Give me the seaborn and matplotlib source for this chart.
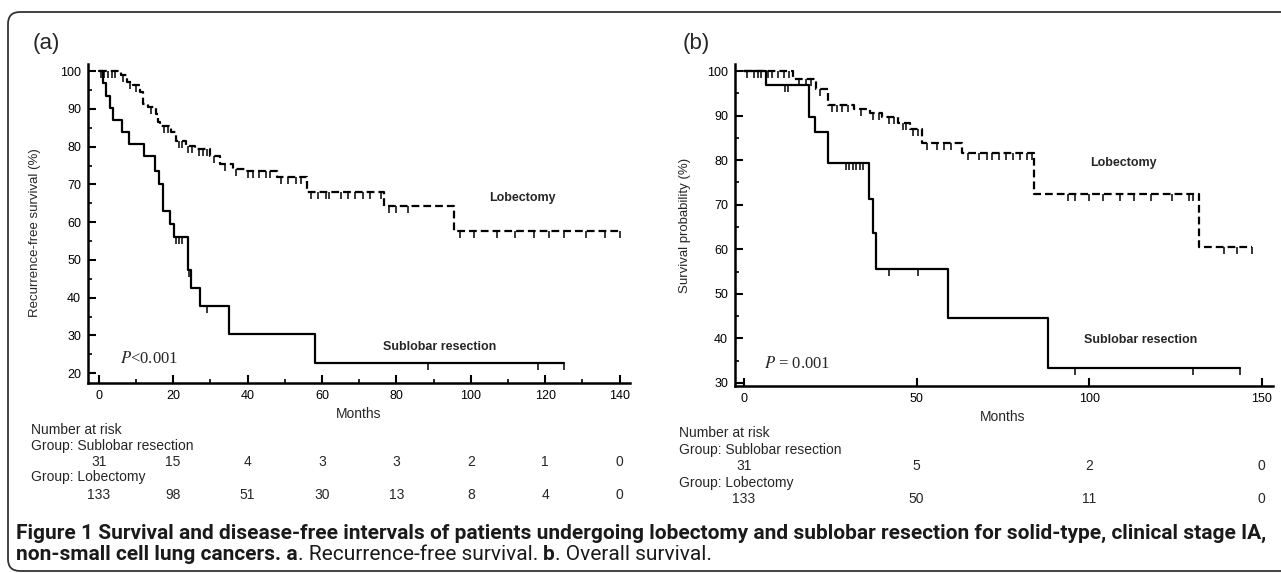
import numpy as np
import matplotlib
matplotlib.use("Agg")
import matplotlib.pyplot as plt
import matplotlib.transforms as mtransforms
from matplotlib.patches import FancyBboxPatch
from matplotlib.ticker import MultipleLocator, FixedLocator
from matplotlib import font_manager as fm
import seaborn as sns

# ---------------- data ----------------
# Panel (a): recurrence-free survival
a_sub_t = [0, 1.1, 1.9, 3.0, 3.9, 6.2, 8.1, 12.1, 15.1, 16.2, 17.3, 19.2, 20.3, 24.1, 24.9, 27.1, 35.1, 58.2, 125.0]
a_sub_s = [100, 96.8, 93.5, 90.3, 87.1, 83.9, 80.6, 77.4, 73.5, 70.0, 63.0, 59.5, 56.1, 47.3, 42.5, 37.8, 30.3, 22.7, 22.7]
a_sub_cens = [20.8, 21.5, 22.3, 24.3, 29.0, 88.4, 118.0, 125.0]

a_lob_t = [0, 5.9, 7.5, 9.3, 11.0, 12.0, 13.3, 15.5, 16.0, 16.4, 19.5, 20.9, 23.5, 26.0, 30.0, 32.5, 36.0, 39.5, 48.0, 56.0, 76.8, 95.5, 140.0]
a_lob_s = [100, 98.9, 97.2, 96.3, 94.5, 91.4, 90.5, 88.7, 86.5, 85.4, 83.8, 81.6, 80.3, 79.4, 77.4, 75.5, 74.1, 73.5, 72.0, 67.9, 64.3, 57.6, 57.6]
a_lob_cens = [0.5, 1.5, 2.5, 3.5, 4.5, 6.5, 8.5, 10, 14, 17.5, 18.5, 21.5, 22.5, 24, 25, 27, 28, 29, 31, 34,
              37, 40, 41.5, 43, 45, 46, 49, 51, 53, 54.5, 57, 59, 61, 62, 65, 67, 69, 71, 73, 76, 78, 80, 83,
              97, 101, 107, 112, 117, 121, 125, 131, 136, 140]

# Panel (b): overall survival
b_sub_t = [0, 6.5, 18.9, 20.5, 24.3, 36.1, 37.3, 38.2, 59.2, 88.2, 143.8]
b_sub_s = [100, 96.8, 89.8, 86.4, 79.4, 71.4, 63.6, 55.6, 44.6, 33.4, 33.4]
b_sub_cens = [12.0, 12.8, 29.5, 30.5, 31.5, 32.5, 33.5, 34.5, 42.0, 50.3, 95.9, 130.2, 143.8]

b_lob_t = [0, 14.2, 21.0, 24.3, 32.0, 36.5, 40.0, 44.5, 48.0, 51.5, 63.3, 84.0, 132.0, 147.3]
b_lob_s = [100, 98.3, 96.0, 92.5, 91.4, 90.5, 89.6, 88.3, 86.9, 83.8, 81.7, 72.5, 60.4, 60.4]
b_lob_cens = [1, 3, 4, 5, 7, 8, 10, 11.5, 13, 16, 18, 19.5, 22, 25.5, 27, 28.5, 30, 34, 37.5, 39, 42, 43.5,
              46, 47, 49, 50.5, 53, 56, 58, 60, 65, 68, 70.5, 72, 74, 76, 78, 80, 82, 83.5,
              94, 96, 100, 104, 109, 113, 118, 124, 129, 130, 139, 143, 147.3]

# Numbers at risk
a_risk_t = [0, 20, 40, 60, 80, 100, 120, 140]
a_risk_sub = [31, 15, 4, 3, 3, 2, 1, 0]
a_risk_lob = [133, 98, 51, 30, 13, 8, 4, 0]
b_risk_t = [0, 50, 100, 150]
b_risk_sub = [31, 5, 2, 0]
b_risk_lob = [133, 50, 11, 0]

# ---------------- style ----------------
sns.set_theme(style="ticks")
plt.rcParams["font.family"] = ["Liberation Sans", "DejaVu Sans"]
plt.rcParams["mathtext.fontset"] = "stix"

names = {f.name for f in fm.fontManager.ttflist}
if "Liberation Sans Narrow" in names:
    cap_font = "Liberation Sans Narrow"
elif "Roboto" in names:
    cap_font = "Roboto"
else:
    cap_font = "Liberation Sans"

W, H = 1281, 573
fig = plt.figure(figsize=(W / 100, H / 100), dpi=100)
fig.patch.set_facecolor("white")


def fx(x):
    return x / W


def fy(y):
    return 1 - y / H


def make_ax(l, t, r, b):
    return fig.add_axes([fx(l), fy(b), (r - l) / W, (b - t) / H])


def step_val(ts, times, surv):
    idx = np.searchsorted(np.asarray(times), np.asarray(ts), side="right") - 1
    return np.asarray(surv)[idx]


def draw_curve(ax, t, s, cens, dashed):
    ls = (0, (3.5, 1.8)) if dashed else "-"
    sns.lineplot(x=t, y=s, ax=ax, drawstyle="steps-post", estimator=None, sort=False,
                 color="black", linewidth=1.6, linestyle=ls)
    sns.scatterplot(x=cens, y=step_val(cens, t, s), ax=ax, marker=3, s=26,
                    color="black", linewidth=1.1, zorder=3)


axA = make_ax(88, 64, 630, 383)
axB = make_ax(735, 64, 1273, 386)

draw_curve(axA, a_sub_t, a_sub_s, a_sub_cens, False)
draw_curve(axA, a_lob_t, a_lob_s, a_lob_cens, True)
draw_curve(axB, b_sub_t, b_sub_s, b_sub_cens, False)
draw_curve(axB, b_lob_t, b_lob_s, b_lob_cens, True)

axA.set_xlim(-2.88, 142.8)
axA.set_ylim(17.4, 101.9)
axA.xaxis.set_major_locator(MultipleLocator(20))
axA.xaxis.set_minor_locator(MultipleLocator(10))
axA.yaxis.set_major_locator(FixedLocator(list(range(20, 101, 10))))
axA.yaxis.set_minor_locator(MultipleLocator(5))

axB.set_xlim(-2.6, 153.3)
axB.set_ylim(29.3, 101.6)
axB.xaxis.set_major_locator(FixedLocator([0, 50, 100, 150]))
axB.yaxis.set_major_locator(FixedLocator(list(range(30, 101, 10))))
axB.yaxis.set_minor_locator(MultipleLocator(5))

for ax in (axA, axB):
    sns.despine(ax=ax)
    ax.set_facecolor("none")
    for sp in ("left", "bottom"):
        ax.spines[sp].set_linewidth(1.8)
        ax.spines[sp].set_color("black")
    ax.tick_params(which="major", direction="in", length=6, width=1.5, labelsize=9,
                   pad=5, color="black", labelcolor="black", bottom=True, left=True)
    ax.tick_params(which="minor", direction="in", length=3, width=1.2, color="black",
                   bottom=True, left=True)
    ax.set_xlabel("")
    ax.set_ylabel("")

# in-plot annotations
axA.text(113.8, 66.4, "Lobectomy", ha="center", va="center", fontsize=9, fontweight="bold")
axA.text(91.5, 26.9, "Sublobar resection", ha="center", va="center", fontsize=9, fontweight="bold")
axA.text(13.5, 23.7, r"$P$<0.001", ha="center", va="center", fontsize=12, family="Liberation Serif")
axB.text(110.0, 79.4, "Lobectomy", ha="center", va="center", fontsize=9, fontweight="bold")
axB.text(114.8, 39.6, "Sublobar resection", ha="center", va="center", fontsize=9, fontweight="bold")
axB.text(15.4, 34.3, r"$P$ = 0.001", ha="center", va="center", fontsize=12, family="Liberation Serif")

# panel letters and axis titles
fig.text(fx(46), fy(43), "(a)", ha="center", va="center", fontsize=16)
fig.text(fx(696), fy(43), "(b)", ha="center", va="center", fontsize=16)
fig.text(fx(35), fy(233), "Recurrence-free survival (%)", rotation=90, ha="center", va="center", fontsize=9.5)
fig.text(fx(685), fy(225), "Survival probability (%)", rotation=90, ha="center", va="center", fontsize=9.5)
fig.text(fx(359), fy(414), "Months", ha="center", va="center", fontsize=10)
fig.text(fx(1003), fy(417), "Months", ha="center", va="center", fontsize=10)

# number at risk tables
def risk_table(ax, x_left, rows_y, times, sub, lob):
    tr = mtransforms.blended_transform_factory(ax.transData, fig.transFigure)
    fig.text(fx(x_left), fy(rows_y[0]), "Number at risk", ha="left", va="center", fontsize=10)
    fig.text(fx(x_left), fy(rows_y[1]), "Group: Sublobar resection", ha="left", va="center", fontsize=10)
    for t, n in zip(times, sub):
        ax.text(t, fy(rows_y[2]), str(n), transform=tr, ha="center", va="center", fontsize=10, clip_on=False)
    fig.text(fx(x_left), fy(rows_y[3]), "Group: Lobectomy", ha="left", va="center", fontsize=10)
    for t, n in zip(times, lob):
        ax.text(t, fy(rows_y[4]), str(n), transform=tr, ha="center", va="center", fontsize=10, clip_on=False)


risk_table(axA, 31, [430, 446, 462, 477, 495], a_risk_t, a_risk_sub, a_risk_lob)
risk_table(axB, 679, [433, 450, 466, 483, 499], b_risk_t, b_risk_sub, b_risk_lob)

# frame (right side runs past the image edge, as in the reference)
frame = FancyBboxPatch((8, H - 571), 1300, 559, boxstyle="round,pad=0,rounding_size=12",
                       transform=mtransforms.IdentityTransform(), facecolor="none",
                       edgecolor="#333333", linewidth=1.3)
fig.add_artist(frame)

# caption
fig.canvas.draw()
renderer = fig.canvas.get_renderer()
line1 = ("Figure 1 Survival and disease-free intervals of patients undergoing lobectomy and "
         "sublobar resection for solid-type, clinical stage IA,")
probe = fig.text(0, 0, line1, fontsize=12, fontweight="bold", family=cap_font)
w12 = probe.get_window_extent(renderer=renderer).width
probe.remove()
cap_size = 12 * 1242 / w12

fig.text(fx(16), fy(533), line1, ha="left", va="center", fontsize=cap_size,
         fontweight="bold", family=cap_font, color="#1a1a1a")
pieces = [("non-small cell lung cancers. a", "bold"), (". Recurrence-free survival. ", "normal"),
          ("b", "bold"), (". Overall survival.", "normal")]
x = 16
for txt, wgt in pieces:
    t = fig.text(fx(x), fy(554), txt, ha="left", va="center", fontsize=cap_size,
                 fontweight=wgt, family=cap_font, color="#1a1a1a")
    x += t.get_window_extent(renderer=renderer).width

fig.savefig("out.png", dpi=100, facecolor="white")
